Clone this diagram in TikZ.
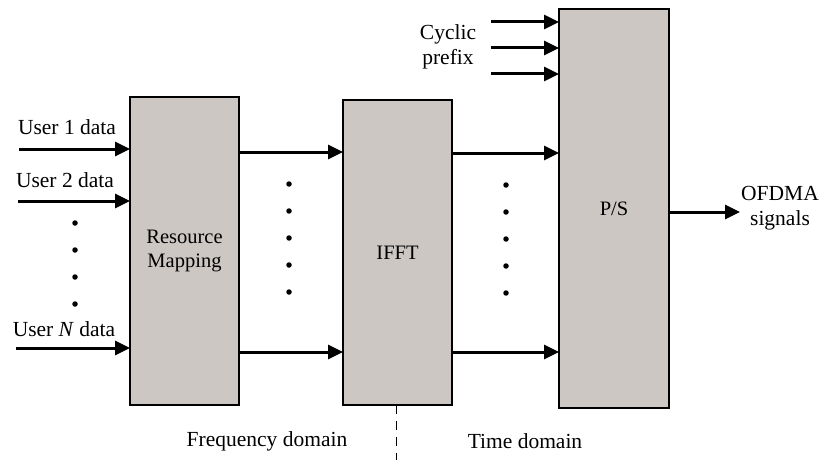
\documentclass[tikz,border=0pt]{standalone}
\usepackage{fontspec}
\setmainfont{Liberation Serif}
\usetikzlibrary{arrows.meta}
\definecolor{boxgray}{RGB}{204,199,195}
\begin{document}
\begin{tikzpicture}[x=1pt,y=-1pt,
 blk/.style={draw=black, line width=1.9pt, fill=boxgray, inner sep=0pt, outer sep=0pt, align=center, font=\fontsize{20.5}{24.5}\selectfont},
 lbl/.style={font=\fontsize{21.5}{25}\selectfont, align=center, inner sep=0pt},
 arr/.style={line width=3pt, -{Triangle[length=15pt,width=14pt]}},
 dotn/.style={circle, fill=black, inner sep=0pt, minimum size=5.5pt}]
\useasboundingbox (0,0) rectangle (823,460);
\fill[white] (0,0) rectangle (823,460);
% blocks
\node[blk, minimum width=109pt, minimum height=308pt] (rm) at (184.5,251) {Resource\\Mapping};
\node[blk, minimum width=109pt, minimum height=305pt] (ifft) at (397.5,252.5) {IFFT};
\node[blk, minimum width=110pt, minimum height=399pt] (ps) at (614,208.5) {P/S};
% inputs
\coordinate (i1) at (19,149);
\coordinate (i2) at (18,201);
\coordinate (iN) at (16,348);
\node[lbl] (l1) at (67,127) {User 1 data};
\node[lbl] (l2) at (65,180) {User 2 data};
\node[lbl] (lN) at (64,329) {User \textit{N} data};
\draw[arr] (i1) -- (i1 -| rm.west);
\draw[arr] (i2) -- (i2 -| rm.west);
\draw[arr] (iN) -- (iN -| rm.west);
\foreach \y [count=\k] in {223,250,277,304} \node[dotn] (da\k) at (75,\y) {};
% RM -> IFFT
\coordinate (r1) at (rm.east |- 0,152);
\coordinate (r2) at (rm.east |- 0,352);
\draw[arr] (r1) -- (r1 -| ifft.west);
\draw[arr] (r2) -- (r2 -| ifft.west);
\foreach \y [count=\k] in {184,211,238,265,292} \node[dotn] (db\k) at (289,\y) {};
% IFFT -> P/S
\coordinate (f1) at (ifft.east |- 0,153);
\coordinate (f2) at (ifft.east |- 0,352);
\draw[arr] (f1) -- (f1 -| ps.west);
\draw[arr] (f2) -- (f2 -| ps.west);
\foreach \y [count=\k] in {185,212,239,266,293} \node[dotn] (dc\k) at (506,\y) {};
% cyclic prefix
\node[lbl] (cp) at (448,47) {Cyclic\\prefix};
\coordinate (c1) at (491,22);
\coordinate (c2) at (491,48);
\coordinate (c3) at (491,74);
\draw[arr] (c1) -- (c1 -| ps.west);
\draw[arr] (c2) -- (c2 -| ps.west);
\draw[arr] (c3) -- (c3 -| ps.west);
% output
\coordinate (o1) at (740,212);
\draw[arr] (ps.east |- o1) -- (o1);
\node[lbl] (out) at (780,208) {OFDMA\\signals};
% domains
\draw[line width=1pt, dash pattern=on 9pt off 7pt] (ifft.south -| 396,0) -- (396,460);
\node[lbl] (fd) at (267,441) {Frequency domain};
\node[lbl] (td) at (525,441) {Time domain};
\end{tikzpicture}
\end{document}
